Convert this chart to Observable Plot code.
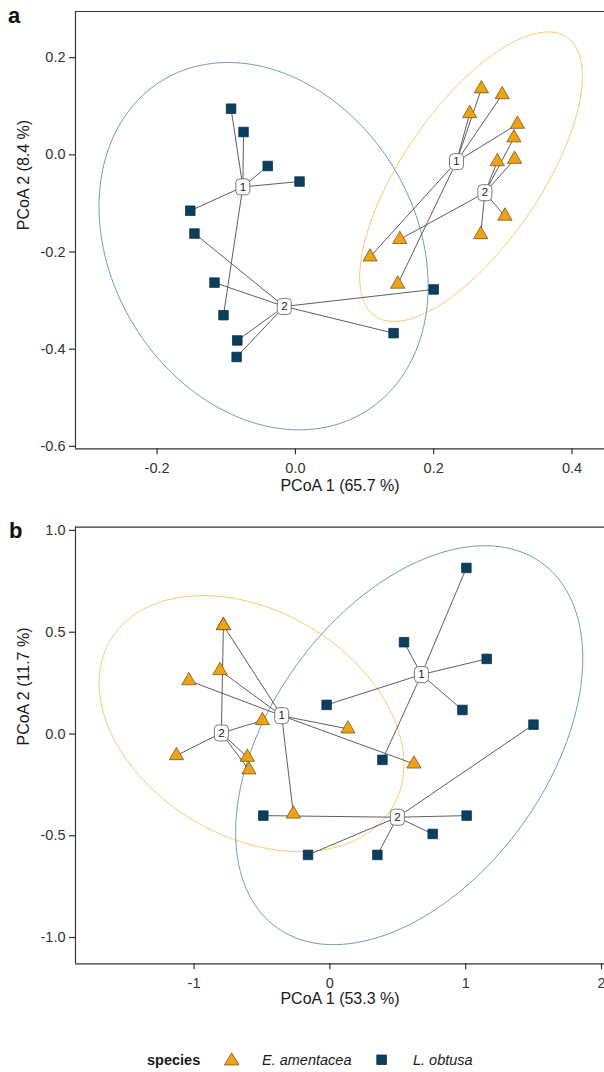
<!DOCTYPE html>
<html><head><meta charset="utf-8">
<script src="https://cdn.jsdelivr.net/npm/d3@7"></script>
<script src="https://cdn.jsdelivr.net/npm/@observablehq/plot@0.6"></script>
<style>
body{margin:0;background:#fff;font-family:"Liberation Sans",Arial,sans-serif;}
#wrap{position:relative;width:604px;height:1072px;overflow:hidden;}
.lab{position:absolute;font-weight:bold;font-size:22px;color:#111;line-height:1;}
</style></head><body><div id="wrap"></div>
<script>
// ---------- data ----------
const speciesNames = ["E. amentacea", "L. obtusa"];

// Panel a
const aEamX = [0.269, 0.299, 0.252, 0.321, 0.108, 0.148, 0.151, 0.316, 0.292, 0.317, 0.303, 0.268];
const aEamY = [0.136, 0.124, 0.085, 0.063, -0.210, -0.266, -0.174, 0.035, -0.014, -0.009, -0.126, -0.164];
const aEamG = [1, 1, 1, 1, 1, 1, 2, 2, 2, 2, 2, 2];
const aLobX = [-0.093, -0.075, -0.040, 0.006, -0.152, -0.104, -0.146, -0.117, -0.084, -0.085, 0.200, 0.142];
const aLobY = [0.095, 0.047, -0.023, -0.055, -0.115, -0.330, -0.162, -0.263, -0.382, -0.416, -0.277, -0.367];
const aLobG = [1, 1, 1, 1, 1, 1, 2, 2, 2, 2, 2, 2];
const aCentSpecies = ["E. amentacea", "E. amentacea", "L. obtusa", "L. obtusa"];
const aCentG = [1, 2, 1, 2];
const aCentX = [0.233, 0.274, -0.076, -0.016];
const aCentY = [-0.014, -0.078, -0.066, -0.312];
// ellipse parameters: centre, spread along x and y, correlation
const aEllCX = [0.254, -0.046];
const aEllCY = [-0.045, -0.188];
const aEllSX = [0.161, 0.238];
const aEllSY = [0.298, 0.378];
const aEllRho = [0.693, -0.216];
const aXTicks = [-0.2, 0.0, 0.2, 0.4];
const aYTicks = [-0.6, -0.4, -0.2, 0.0, 0.2];
const aXDomain = [-0.318, 0.447];
const aYDomain = [-0.605, 0.295];
const aXLabel = "PCoA 1 (65.7 %)";
const aYLabel = "PCoA 2 (8.4 %)";

// Panel b
const bEamX = [-0.784, -0.809, -1.038, -0.269, 0.133, 0.619, -0.497, -1.130, -0.608, -0.596, -0.784];
const bEamY = [0.533, 0.312, 0.262, -0.393, 0.025, -0.147, 0.066, -0.106, -0.114, -0.176, 0.533];
const bEamG = [1, 1, 1, 1, 1, 1, 2, 2, 2, 2, 2];
const bLobX = [1.005, 0.546, 1.155, -0.024, 0.976, 0.387, 1.499, 1.007, 0.757, 0.350, -0.161, -0.490];
const bLobY = [0.816, 0.451, 0.369, 0.143, 0.118, -0.127, 0.046, -0.401, -0.491, -0.594, -0.594, -0.401];
const bLobG = [1, 1, 1, 1, 1, 1, 2, 2, 2, 2, 2, 2];
const bCentSpecies = ["E. amentacea", "E. amentacea", "L. obtusa", "L. obtusa"];
const bCentG = [1, 2, 1, 2];
const bCentX = [-0.355, -0.799, 0.674, 0.497];
const bCentY = [0.090, 0.005, 0.292, -0.409];
const bEllCX = [-0.577, 0.584];
const bEllCY = [0.051, -0.055];
const bEllSX = [1.122, 1.278];
const bEllSY = [0.629, 0.980];
const bEllRho = [-0.318, 0.436];
const bXTicks = [-1, 0, 1, 2];
const bYTicks = [-1.0, -0.5, 0.0, 0.5, 1.0];
const bXDomain = [-1.873, 2.022];
const bYDomain = [-1.129, 1.016];
const bXLabel = "PCoA 1 (53.3 %)";
const bYLabel = "PCoA 2 (11.7 %)";

// ---------- styles ----------
const fillCol = {"E. amentacea": "#F2A20D", "L. obtusa": "#08405F"};
const strokeCol = {"E. amentacea": "#5b4a2a", "L. obtusa": "#0a2436"};
const ellCol = {"E. amentacea": "#F7C462", "L. obtusa": "#6690AA"};
const symbolOf = {"E. amentacea": "triangle", "L. obtusa": "square"};

const roundRect = {
  draw(ctx) {
    const w = 7, h = 8, r = 4;
    ctx.moveTo(-w + r, -h);
    ctx.lineTo(w - r, -h); ctx.arcTo(w, -h, w, -h + r, r);
    ctx.lineTo(w, h - r); ctx.arcTo(w, h, w - r, h, r);
    ctx.lineTo(-w + r, h); ctx.arcTo(-w, h, -w, h - r, r);
    ctx.lineTo(-w, -h + r); ctx.arcTo(-w, -h, -w + r, -h, r);
    ctx.closePath();
  }
};

function rows(sp, xs, ys, gs) { return xs.map((x, i) => ({species: sp, x, y: ys[i], group: gs[i]})); }
function ellipsePts(sp, cx, cy, sx, sy, rho) {
  const n = 160, k = Math.sqrt(1 - rho * rho), out = [];
  for (let i = 0; i < n; i++) {
    const t = 2 * Math.PI * i / n;
    out.push({species: sp, x: cx + sx * Math.cos(t), y: cy + sy * (rho * Math.cos(t) + k * Math.sin(t))});
  }
  return out;
}

function panel(o) {
  const points = [...rows(speciesNames[0], o.ex, o.ey, o.eg), ...rows(speciesNames[1], o.lx, o.ly, o.lg)];
  const cents = o.cs.map((s, i) => ({species: s, group: o.cg[i], x: o.cx[i], y: o.cy[i]}));
  const links = points.map(p => {
    const c = cents.find(c => c.species === p.species && c.group === p.group);
    return {x1: p.x, y1: p.y, x2: c.x, y2: c.y};
  });
  const marks = [];
  speciesNames.forEach((sp, i) => {
    marks.push(Plot.line(ellipsePts(sp, o.ecx[i], o.ecy[i], o.esx[i], o.esy[i], o.erho[i]),
      {x: "x", y: "y", curve: "linear-closed", stroke: ellCol[sp], strokeWidth: 0.9}));
  });
  marks.push(Plot.link(links, {x1: "x1", y1: "y1", x2: "x2", y2: "y2", stroke: "#4d4d4d", strokeWidth: 0.9}));
  speciesNames.slice().reverse().forEach(sp => {
    marks.push(Plot.dot(points.filter(p => p.species === sp), {
      x: "x", y: "y", symbol: symbolOf[sp], r: sp === "L. obtusa" ? 5.4 : 5.3,
      fill: fillCol[sp], stroke: strokeCol[sp], strokeWidth: 0.7
    }));
  });
  marks.push(Plot.dot(cents, {x: "x", y: "y", symbol: roundRect, fill: "white", stroke: "#6b6b6b", strokeWidth: 0.9}));
  marks.push(Plot.text(cents, {x: "x", y: "y", text: d => String(d.group), fontSize: 11.5, fill: "#1a1a1a"}));
  marks.push(Plot.ruleX([o.xd[0]], {stroke: "#333", strokeWidth: 1.2}));
  marks.push(Plot.ruleY([o.yd[0], o.yd[1]], {stroke: "#333", strokeWidth: 1.2}));
  marks.push(Plot.axisX({ticks: o.xt, tickFormat: o.xf, tickSize: 6, tickPadding: 8, label: null, stroke: "#333", strokeWidth: 1.2, fill: "#333", fontSize: 14.5}));
  marks.push(Plot.axisY({ticks: o.yt, tickFormat: d => d.toFixed(1), tickSize: 6, tickPadding: 4, label: null, stroke: "#333", strokeWidth: 1.2, fill: "#333", fontSize: 14.5}));
  marks.push(Plot.text([o.xl], {text: d => d, frameAnchor: "bottom", dy: o.xlDy, fontSize: 16, fill: "#1a1a1a"}));
  marks.push(Plot.text([o.yl], {text: d => d, frameAnchor: "left", dx: -52, rotate: -90, fontSize: 16, fill: "#1a1a1a"}));
  return Plot.plot({
    width: 604, height: o.h,
    marginLeft: 75, marginRight: 0, marginTop: o.mt, marginBottom: o.mb,
    x: {domain: o.xd}, y: {domain: o.yd},
    style: {fontFamily: "'Liberation Sans', Arial, sans-serif", fontSize: "14.5px", color: "#333", background: "transparent", overflow: "visible"},
    marks
  });
}

const wrap = document.getElementById("wrap");
const pa = panel({ex: aEamX, ey: aEamY, eg: aEamG, lx: aLobX, ly: aLobY, lg: aLobG,
  cs: aCentSpecies, cg: aCentG, cx: aCentX, cy: aCentY,
  ecx: aEllCX, ecy: aEllCY, esx: aEllSX, esy: aEllSY, erho: aEllRho,
  xt: aXTicks, yt: aYTicks, xf: d => d.toFixed(1), xd: aXDomain, yd: aYDomain,
  xl: aXLabel, yl: aYLabel, xlDy: 42.4, h: 500, mt: 11, mb: 51.7});
pa.style.position = "absolute"; pa.style.left = "0px"; pa.style.top = "0px";
wrap.appendChild(pa);

const pb = panel({ex: bEamX, ey: bEamY, eg: bEamG, lx: bLobX, ly: bLobY, lg: bLobG,
  cs: bCentSpecies, cg: bCentG, cx: bCentX, cy: bCentY,
  ecx: bEllCX, ecy: bEllCY, esx: bEllSX, esy: bEllSY, erho: bEllRho,
  xt: bXTicks, yt: bYTicks, xf: d => String(d), xd: bXDomain, yd: bYDomain,
  xl: bXLabel, yl: bYLabel, xlDy: 39.7, h: 520, mt: 26.7, mb: 56.7});
pb.style.position = "absolute"; pb.style.left = "0px"; pb.style.top = "500px";
wrap.appendChild(pb);

// panel letters
const la = document.createElement("div"); la.className = "lab"; la.textContent = "a";
la.style.left = "8px"; la.style.top = "5px"; wrap.appendChild(la);
const lb = document.createElement("div"); lb.className = "lab"; lb.textContent = "b";
lb.style.left = "9px"; lb.style.top = "520px"; wrap.appendChild(lb);

// legend
const ns = "http://www.w3.org/2000/svg";
const leg = document.createElementNS(ns, "svg");
leg.setAttribute("width", 604); leg.setAttribute("height", 32);
leg.style.position = "absolute"; leg.style.left = "0px"; leg.style.top = "1040px";
leg.innerHTML = `
<text x="147" y="25" font-size="14.5" font-weight="bold" fill="#1a1a1a" font-family="Liberation Sans, Arial, sans-serif">species</text>
<polygon points="231.7,12.7 224.4,25 239,25" fill="${fillCol[speciesNames[0]]}" stroke="${strokeCol[speciesNames[0]]}" stroke-width="0.7"/>
<text x="262" y="25" font-size="14.5" font-style="italic" fill="#1a1a1a" font-family="Liberation Sans, Arial, sans-serif">${speciesNames[0]}</text>
<rect x="376.8" y="15" width="9.6" height="9.6" fill="${fillCol[speciesNames[1]]}" stroke="${strokeCol[speciesNames[1]]}" stroke-width="0.7"/>
<text x="413" y="25" font-size="14.5" font-style="italic" fill="#1a1a1a" font-family="Liberation Sans, Arial, sans-serif">${speciesNames[1]}</text>`;
wrap.appendChild(leg);
</script></body></html>
